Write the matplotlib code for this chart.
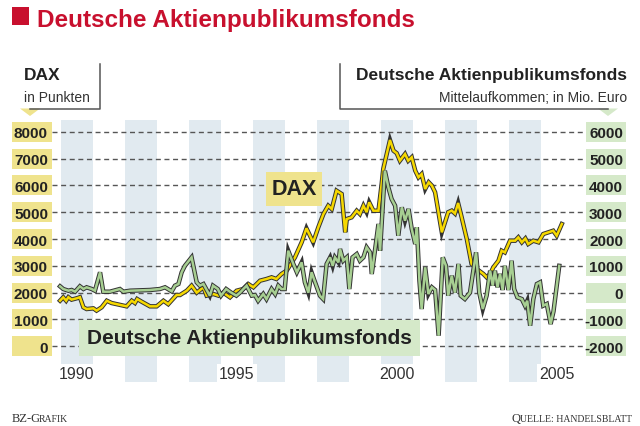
import matplotlib
matplotlib.use("Agg")
import matplotlib.pyplot as plt
import matplotlib.patheffects as pe
from matplotlib.patches import Rectangle, Polygon
from matplotlib.lines import Line2D
from matplotlib.transforms import blended_transform_factory

# ---------------- data ----------------
dax_t = [1989.98, 1990.08, 1990.17, 1990.24, 1990.34, 1990.50, 1990.60, 1990.71, 1990.81,
         1991.02, 1991.12, 1991.28, 1991.44, 1991.59, 1992.06, 1992.22, 1992.32, 1992.39,
         1992.53, 1992.79, 1993.00, 1993.21, 1993.36, 1993.62, 1993.73, 1993.94, 1994.09,
         1994.25, 1994.46, 1994.56, 1994.77, 1994.93, 1995.08, 1995.29, 1995.50, 1995.70,
         1995.86, 1996.02, 1996.23, 1996.43, 1996.59, 1996.74, 1996.90, 1997.06, 1997.32,
         1997.53, 1997.68, 1997.79, 1997.89, 1998.05, 1998.21, 1998.36, 1998.47, 1998.62,
         1998.78, 1998.89, 1998.94, 1999.09, 1999.25, 1999.35, 1999.46, 1999.56, 1999.64,
         1999.77, 1999.93, 2000.03, 2000.08, 2000.29, 2000.40, 2000.50, 2000.60, 2000.76,
         2000.86, 2000.97, 2001.08, 2001.18, 2001.28, 2001.39, 2001.50, 2001.60, 2001.70,
         2001.91, 2002.11, 2002.22, 2002.32, 2002.42, 2002.53, 2002.69, 2002.84, 2003.00,
         2003.21, 2003.31, 2003.42, 2003.52, 2003.68, 2003.78, 2003.88, 2004.04, 2004.20,
         2004.30, 2004.41, 2004.52, 2004.61, 2004.77, 2004.93, 2005.08, 2005.24, 2005.39,
         2005.50, 2005.66]
dax_v = [1700, 1827, 1700, 1830, 1740, 1790, 1830, 1454, 1390,
         1415, 1330, 1454, 1700, 1614, 1490, 1700, 1614, 1763,
         1663, 1490, 1490, 1700, 1570, 1913, 1913, 2073, 2261,
         2000, 2200, 1888, 1950, 1888, 2000, 1827, 2073, 2136,
         2323, 2200, 2447, 2509, 2572, 2509, 2696, 2820, 3316,
         3877, 4400, 4124, 3877, 4436, 4932, 5243, 5118, 5802,
         5679, 4250, 4746, 4808, 5056, 4932, 5243, 5000, 5369,
         5056, 5056, 6051, 6611, 7692, 7294, 7200, 6920, 7170,
         6920, 7047, 6547, 6300, 6423, 5865, 6115, 5990, 5742,
         4250, 5000, 5060, 4950, 5343, 4810, 4000, 3070, 2882,
         2696, 2573, 2696, 2945, 3192, 3565, 3500, 3938, 3938,
         4063, 3877, 4020, 3814, 3938, 3877, 4187, 4250, 4310,
         4124, 4560]

fund_t = [1989.98, 1990.08, 1990.24, 1990.34, 1990.45, 1990.60, 1990.71, 1990.81, 1990.97,
          1991.07, 1991.23, 1991.33, 1991.54, 1991.85, 1991.96, 1992.17, 1992.79, 1993.10,
          1993.26, 1993.47, 1993.57, 1993.68, 1993.78, 1993.88, 1994.09, 1994.25, 1994.35,
          1994.46, 1994.66, 1994.76, 1994.91, 1995.01, 1995.17, 1995.33, 1995.49, 1995.60,
          1995.81, 1995.97, 1996.07, 1996.17, 1996.33, 1996.43, 1996.59, 1996.70, 1996.80,
          1996.90, 1997.00, 1997.11, 1997.27, 1997.38, 1997.53, 1997.63, 1997.74, 1997.84,
          1997.95, 1998.10, 1998.20, 1998.31, 1998.42, 1998.50, 1998.57, 1998.68, 1998.73,
          1998.83, 1998.94, 1999.02, 1999.12, 1999.25, 1999.35, 1999.46, 1999.56, 1999.67,
          1999.72, 1999.82, 1999.93, 1999.98, 2000.03, 2000.13, 2000.24, 2000.34, 2000.45,
          2000.55, 2000.66, 2000.76, 2000.87, 2000.97, 2001.08, 2001.13, 2001.21, 2001.28,
          2001.39, 2001.49, 2001.60, 2001.70, 2001.81, 2001.94, 2002.04, 2002.11, 2002.22,
          2002.32, 2002.43, 2002.50, 2002.63, 2002.79, 2002.98, 2003.08, 2003.19, 2003.31,
          2003.42, 2003.50, 2003.57, 2003.65, 2003.73, 2003.81, 2003.88, 2003.99, 2004.09,
          2004.17, 2004.27, 2004.41, 2004.51, 2004.58, 2004.67, 2004.77, 2004.88, 2004.98,
          2005.08, 2005.19, 2005.31, 2005.40, 2005.58]
fund_v = [237, 136, 73, 100, 36, 237, 136, 200, 136,
          73, 759, 36, 36, 136, 36, 73, 100, 136,
          200, 50, 261, 324, 759, 1000, 1316, 385, 261,
          323, -112, 261, 136, -112, 136, 0, -112, 0,
          261, -112, -90, -300, -50, -240, 136, -50, 261,
          136, 136, 1565, 1070, 760, 1130, 385, 0, 760,
          385, -112, -237, 1070, 1316, 1000, 1316, 1130, 1628,
          1192, 1316, 136, 1316, 1440, 1192, 1316, 1690, 1500,
          696, 1565, 2560, 1565, 2560, 4547, 3928, 3492, 3243,
          2124, 3183, 2683, 3120, 2373, 1814, 2436, 447, -610,
          945, -50, 200, 100, -1605, 1316, 1000, -112, 632,
          0, 1070, -112, -237, 0, 1503, 0, -610, -112,
          820, 261, 820, 200, 700, 100, 1000, 100, 1192,
          136, -173, -237, -485, -300, -1232, -237, 323, 385,
          -485, -420, -1170, -700, 1000]

dax_ticks = [0, 1000, 2000, 3000, 4000, 5000, 6000, 7000, 8000]
fund_ticks = [-2000, -1000, 0, 1000, 2000, 3000, 4000, 5000, 6000]
year_labels = ["1990", "1995", "2000", "2005"]
year_label_pos = [1990.5, 1995.5, 2000.5, 2005.5]
band_years = [1990, 1992, 1994, 1996, 1998, 2000, 2002, 2004]

# ---------------- style ----------------
RED = "#c8102e"
YEL_BOX = "#efe38d"
GRN_BOX = "#d5e9c9"
BAND = "#e1eaf0"
DAX_C = "#f6d800"
FUND_C = "#a7cf92"
OUTL = "#333333"
TXT = "#222222"
LINEC = "#555555"

plt.rcParams['font.family'] = ['Liberation Sans', 'DejaVu Sans']

W, H = 640, 427
fig = plt.figure(figsize=(W / 100, H / 100), dpi=100)
fig.patch.set_facecolor("white")


def fx(x):
    return x / W


def fy(y):
    return 1 - y / H


# pixel geometry of the plot
PXU = 26.82 / 1000.0      # px per data unit
Y0 = 347.3                # pixel y of value 0 (left)
TOP, BOT = 121, 383
XL, XR = 52, 585
XPX, XREF = 32.0, 60.7
ylim = ((Y0 - BOT) / PXU, (Y0 - TOP) / PXU)
xlim = (1990 + (XL - XREF) / XPX, 1990 + (XR - XREF) / XPX)

ax = fig.add_axes([fx(XL), fy(BOT), (XR - XL) / W, (BOT - TOP) / H])
ax.set_xlim(xlim)
ax.set_ylim(ylim)
for s in ax.spines.values():
    s.set_visible(False)

for yr in band_years:
    ax.axvspan(yr, yr + 1, color=BAND, lw=0, zorder=0.5)

for v in dax_ticks:
    ax.axhline(v, color=LINEC, lw=1.0, ls=(0, (3.6, 2.6)), zorder=1)

ax.plot(dax_t, dax_v, color=DAX_C, lw=1.8, zorder=3, solid_joinstyle="miter",
        path_effects=[pe.Stroke(linewidth=3.2, foreground=OUTL), pe.Normal()])

ax.set_yticks(dax_ticks)
ax.set_yticklabels([str(v) for v in dax_ticks], fontweight="bold", fontsize=11, color=TXT)
ax.tick_params(axis="y", length=0, pad=4 * 0.72)
ax.set_xticks(year_label_pos)
ax.set_xticklabels(year_labels, fontsize=11.5, color="#333333")
ax.tick_params(axis="x", length=0, pad=-11.5)
for lbl in ax.get_xticklabels():
    lbl.set_bbox(dict(facecolor="white", edgecolor="none", pad=1.5))

ax2 = ax.twinx()
ax2.set_ylim(ylim[0] - 2000, ylim[1] - 2000)
for s in ax2.spines.values():
    s.set_visible(False)
ax2.plot(fund_t, fund_v, color=FUND_C, lw=1.8, zorder=3, solid_joinstyle="miter",
         path_effects=[pe.Stroke(linewidth=3.2, foreground=OUTL), pe.Normal()])
ax2.set_yticks(fund_ticks)
ax2.set_yticklabels([str(v) for v in fund_ticks], fontweight="bold", fontsize=11,
                    color=TXT, ha="right")
ax2.tick_params(axis="y", length=0, pad=38 * 0.72)

# tick label boxes
bh = 20 / PXU
tl = blended_transform_factory(fig.transFigure, ax.transData)
for v in dax_ticks:
    fig.add_artist(Rectangle((fx(12), v - bh / 2), 40 / W, bh, transform=tl,
                             facecolor=YEL_BOX, edgecolor="none", zorder=-1))
tr = blended_transform_factory(fig.transFigure, ax2.transData)
for v in fund_ticks:
    fig.add_artist(Rectangle((fx(586), v - bh / 2), 40 / W, bh, transform=tr,
                             facecolor=GRN_BOX, edgecolor="none", zorder=-1))


# in-plot label boxes
def label_box(x0, y0, x1, y1, color, text, size):
    fig.add_artist(Rectangle((fx(x0), fy(y1)), (x1 - x0) / W, (y1 - y0) / H,
                             facecolor=color, edgecolor="none", zorder=5))
    fig.text(fx((x0 + x1) / 2), fy((y0 + y1) / 2), text, ha="center", va="center",
             fontsize=size, fontweight="bold", color=TXT, zorder=6)


label_box(266, 172.7, 321.7, 206.7, YEL_BOX, "DAX", 15.5)
label_box(79, 321, 420, 357, GRN_BOX, "Deutsche Aktienpublikumsfonds", 15)

# title
fig.add_artist(Rectangle((fx(12), fy(26)), 17 / W, 18 / H, facecolor=RED, edgecolor="none"))
fig.text(fx(37), fy(26.5), "Deutsche Aktienpublikumsfonds", color=RED, fontsize=17.5,
         fontweight="bold", va="baseline", ha="left")

# headers
fig.text(fx(24), fy(80), "DAX", fontsize=12.5, fontweight="bold", color=TXT, va="baseline")
fig.text(fx(24), fy(101.7), "in Punkten", fontsize=10, color="#333333", va="baseline")
fig.add_artist(Line2D([fx(100), fx(100), fx(30)], [fy(65), fy(110), fy(110)],
                      color=LINEC, lw=1.1))
fig.add_artist(Polygon([(fx(20), fy(109.5)), (fx(40), fy(109.5)), (fx(30), fy(117))],
                       closed=True, facecolor=YEL_BOX, edgecolor="none"))

fig.text(fx(627), fy(80), "Deutsche Aktienpublikumsfonds", fontsize=12.5, fontweight="bold",
         color=TXT, va="baseline", ha="right")
fig.text(fx(627), fy(101.7), "Mittelaufkommen; in Mio. Euro", fontsize=10, color="#333333",
         va="baseline", ha="right")
fig.add_artist(Line2D([fx(340), fx(340), fx(608)], [fy(65), fy(110), fy(110)],
                      color=LINEC, lw=1.1))
fig.add_artist(Polygon([(fx(598), fy(109.5)), (fx(618), fy(109.5)), (fx(608), fy(117))],
                       closed=True, facecolor=GRN_BOX, edgecolor="none"))

# footer with emulated small caps
renderer = fig.canvas.get_renderer()


def seq_text(x, y, segments, ha="left"):
    # segments: (text, fontsize, tighten_px)
    objs = [fig.text(0, 0, s, fontsize=sz, family=["Liberation Serif", "DejaVu Serif"],
                     color="#333333", va="baseline") for s, sz, _ in segments]
    widths = [o.get_window_extent(renderer).width - tight
              for o, (_, _, tight) in zip(objs, segments)]
    cur = x if ha == "left" else x - sum(widths)
    for o, w in zip(objs, widths):
        o.set_position((fx(cur), fy(y)))
        cur += w


seq_text(12, 422, [("BZ-G", 9, 2.0), ("RAFIK", 7, 0)])
seq_text(632, 422, [("Q", 9, 0.3), ("UELLE: HANDELSBLATT", 7, 0)], ha="right")

fig.savefig("out.png", dpi=100, facecolor="white")
